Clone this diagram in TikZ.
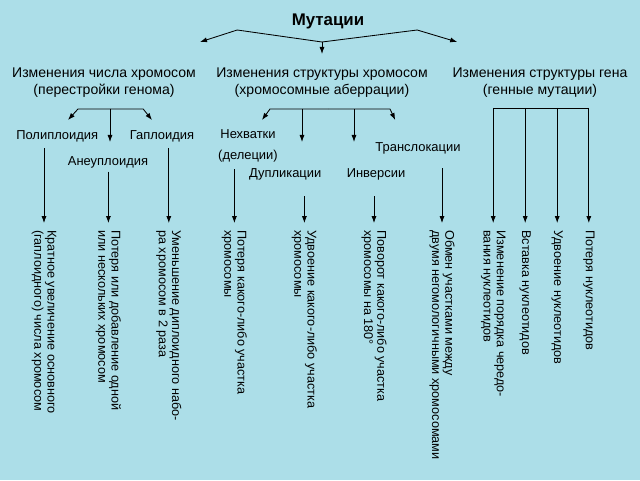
\documentclass[tikz,border=0pt]{standalone}
\usepackage{fontspec}
\setmainfont{Liberation Sans}
\usetikzlibrary{arrows.meta,positioning}
\definecolor{drops}{RGB}{172,222,232}

\tikzset{
  arr/.style={line width=0.6pt,-{Latex[length=5pt,width=3.6pt]}},
  vline/.style={arr,shorten >=3.5pt},
  head/.style={font=\fontsize{10}{12}\selectfont,align=center,inner sep=1pt},
  kind/.style={font=\fontsize{9.2}{11}\selectfont,inner sep=1pt},
  vtext/.style={font=\fontsize{9}{9.4}\selectfont,align=left,rotate=-90,anchor=west,inner sep=1.5pt}
}

\begin{document}
\begin{tikzpicture}
\fill[drops] (0,0) rectangle (16,12);
\useasboundingbox (0,0) rectangle (16,12);

\node[font=\fontsize{12}{14}\bfseries] (mut) at (8.2,11.47) {Мутации};
\coordinate (m0) at (8.05,10.95);
\draw[arr] (m0) -- (5.93,11.25) -- (5.0,10.95);
\draw[arr] (m0) -- (10.43,11.25) -- (11.43,10.95);
\draw[arr] (m0) -- (8.05,10.65);

\node[head] (g1) at (2.6,9.94) {Изменения числа хромосом\\(перестройки генома)};
\node[head] (g2) at (8.05,9.94) {Изменения структуры хромосом\\(хромосомные аберрации)};
\node[head] (g3) at (13.5,9.94) {Изменения структуры гена\\(генные мутации)};

% chromosome number
\node[kind] (poly) at (1.43,8.58) {Полиплоидия};
\node[kind] (hapl) at (4.05,8.58) {Гаплоидия};
\node[kind] (aneu) at (2.7,7.93) {Анеуплоидия};
\coordinate (b1) at (2.75,9.275);
\draw[arr] (b1) -- (1.95,9.275) -- (1.7,9.0);
\draw[arr] (b1) -- (3.58,9.275) -- (3.8,9.0);
\draw[arr] (b1) -- (2.75,8.45);

% chromosome structure
\node[head,font=\fontsize{9.2}{15}\selectfont] (nehv) at (6.2,8.36) {Нехватки\\(делеции)};
\node[kind] (dupl) at (7.13,7.63) {Дупликации};
\node[kind] (inv) at (9.4,7.63) {Инверсии};
\node[kind] (trans) at (10.45,8.3) {Транслокации};
\coordinate (b2) at (8.2,9.275);
\draw[arr] (b2) -- (6.75,9.275) -- (6.55,9.0);
\draw[arr] (b2) -- (9.75,9.275) -- (9.88,9.0);
\draw[arr] (7.55,9.275) -- (7.55,8.45);
\draw[arr] (8.85,9.275) -- (8.85,8.45);

% gene
\coordinate (b3) at (13.5,9.3);

\node[vtext] (t1) at (1.1,6.3) {Кратное увеличение основного\\(гаплоидного) числа хромосом};
\node[vtext] (t2) at (2.71,6.3) {Потеря или добавление одной\\или нескольких хромосом};
\node[vtext] (t3) at (4.22,6.3) {Уменьшение диплоидного набо-\\ра хромосом в 2 раза};
\node[vtext] (t4) at (5.86,6.3) {Потеря какого-либо участка\\хромосомы};
\node[vtext] (t5) at (7.61,6.3) {Удвоение какого-либо участка\\хромосомы};
\node[vtext] (t6) at (9.35,6.3) {Поворот какого-либо участка\\хромосомы на 180°};
\node[vtext] (t7) at (11.05,6.3) {Обмен участками между\\двумя негомологичными хромосомами};
\node[vtext] (t8) at (12.33,6.3) {Изменение порядка чередо-\\вания нуклеотидов};
\node[vtext] (t9) at (13.13,6.3) {Вставка нуклеотидов};
\node[vtext] (t10) at (13.93,6.3) {Удвоение нуклеотидов};
\node[vtext] (t11) at (14.72,6.3) {Потеря нуклеотидов};

\draw[vline,shorten <=3pt] (poly.south -| t1.west) -- (t1.west);
\draw[vline,shorten <=1pt] (aneu.south -| t2.west) -- (t2.west);
\draw[vline,shorten <=3pt] (hapl.south -| t3.west) -- (t3.west);
\draw[vline,shorten <=4pt] (nehv.south -| t4.west) -- (t4.west);
\draw[vline,shorten <=10pt] (dupl.south -| t5.west) -- (t5.west);
\draw[vline,shorten <=10pt] (inv.south -| t6.west) -- (t6.west);
\draw[vline,shorten <=9pt] (trans.south -| t7.west) -- (t7.west);
\draw[line width=0.6pt] (b3 -| t8.west) -- (b3 -| t11.west);
\foreach \t in {t8,t9,t10,t11}
  \draw[vline] (b3 -| \t.west) -- (\t.west);
\end{tikzpicture}
\end{document}
